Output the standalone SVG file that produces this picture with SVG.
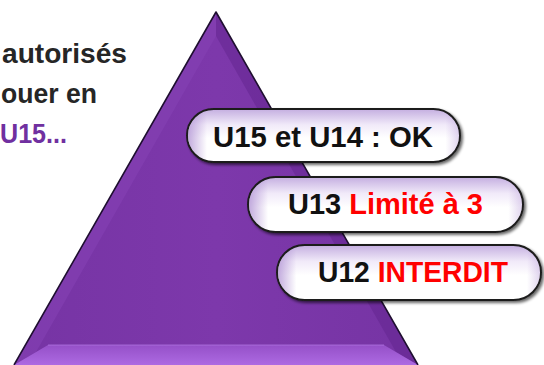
<svg xmlns="http://www.w3.org/2000/svg" width="544" height="365" viewBox="0 0 544 365">
<defs>
<style>
.lt{font-family:"Liberation Sans",Arial,sans-serif;font-weight:bold;font-size:27px;fill:#262626}
.pt{font-family:"Liberation Sans",Arial,sans-serif;font-weight:bold;font-size:29px;fill:#111}
.red{fill:#ff0000}
.pill{fill:url(#pv);stroke:#1c1c1c;stroke-width:2;filter:url(#sh)}
.pillh{fill:url(#ph);stroke:none}
</style>
<linearGradient id="pv" x1="0" y1="0" x2="0" y2="1">
<stop offset="0" stop-color="#c4aee0"/>
<stop offset="0.3" stop-color="#f1eaf9"/>
<stop offset="0.55" stop-color="#ffffff"/>
<stop offset="1" stop-color="#ffffff"/>
</linearGradient>
<linearGradient id="ph" x1="0" y1="0" x2="1" y2="0">
<stop offset="0" stop-color="#a887cf" stop-opacity="0.7"/>
<stop offset="0.07" stop-color="#a887cf" stop-opacity="0"/>
<stop offset="0.95" stop-color="#a887cf" stop-opacity="0"/>
<stop offset="1" stop-color="#a887cf" stop-opacity="0.35"/>
</linearGradient>
<linearGradient id="bot" x1="0" y1="0" x2="0" y2="1">
<stop offset="0" stop-color="#9550c8"/>
<stop offset="1" stop-color="#ad6ae2"/>
</linearGradient>
<linearGradient id="mid" x1="0" y1="0" x2="1" y2="0">
<stop offset="0" stop-color="#7634a4"/>
<stop offset="0.5" stop-color="#7d38ab"/>
<stop offset="1" stop-color="#7634a4"/>
</linearGradient>
<filter id="sh" x="-10%" y="-20%" width="120%" height="150%">
<feGaussianBlur in="SourceAlpha" stdDeviation="1.5"/>
<feOffset dx="2" dy="2" result="b"/>
<feComponentTransfer><feFuncA type="linear" slope="0.6"/></feComponentTransfer>
<feMerge><feMergeNode/><feMergeNode in="SourceGraphic"/></feMerge>
</filter>
</defs>
<g id="texte-gauche">
<text class="lt" x="2" y="63" textLength="125" lengthAdjust="spacingAndGlyphs">autorisés</text>
<text class="lt" x="1" y="103" textLength="96" lengthAdjust="spacingAndGlyphs">ouer en</text>
<text class="lt" x="0" y="143" style="fill:#7030a0" textLength="67" lengthAdjust="spacingAndGlyphs">U15...</text>
</g>
<g id="pyramide">
<polygon points="216,12 14,365 418,365" fill="url(#mid)"/>
<polygon points="216,12 14,365 36,352 216,36" fill="#8641b4" opacity="0.6"/>
<polygon points="216,12 418,365 396,352 216,36" fill="#62248e" opacity="0.5"/>
<polygon points="14,365 418,365 384,345 48,345" fill="url(#bot)"/>
<line x1="48" y1="345" x2="384" y2="345" stroke="#b57ae6" stroke-width="1" opacity="0.7"/>
<polyline points="14,365 216,12 418,365" fill="none" stroke="#1f0f30" stroke-width="1.6" stroke-linejoin="round"/>
</g>
<g id="connecteurs"></g>
<g id="u15-u14">
<rect class="pill" x="187" y="109" width="273" height="53" rx="26.5"/>
<rect class="pillh" x="188" y="110" width="271" height="51" rx="25.5"/>
<text class="pt" x="213" y="147" textLength="220" lengthAdjust="spacingAndGlyphs">U15 et U14 : OK</text>
</g>
<g id="u13">
<rect class="pill" x="248" y="177" width="275" height="55" rx="27.5"/>
<rect class="pillh" x="249" y="178" width="273" height="53" rx="26.5"/>
<text class="pt" x="288" y="214" textLength="195" lengthAdjust="spacingAndGlyphs">U13 <tspan class="red">Limité à 3</tspan></text>
</g>
<g id="u12">
<rect class="pill" x="277" y="245" width="264" height="55" rx="27.5"/>
<rect class="pillh" x="278" y="246" width="262" height="53" rx="26.5"/>
<text class="pt" x="318" y="282" textLength="190" lengthAdjust="spacingAndGlyphs">U12 <tspan class="red">INTERDIT</tspan></text>
</g>
</svg>
